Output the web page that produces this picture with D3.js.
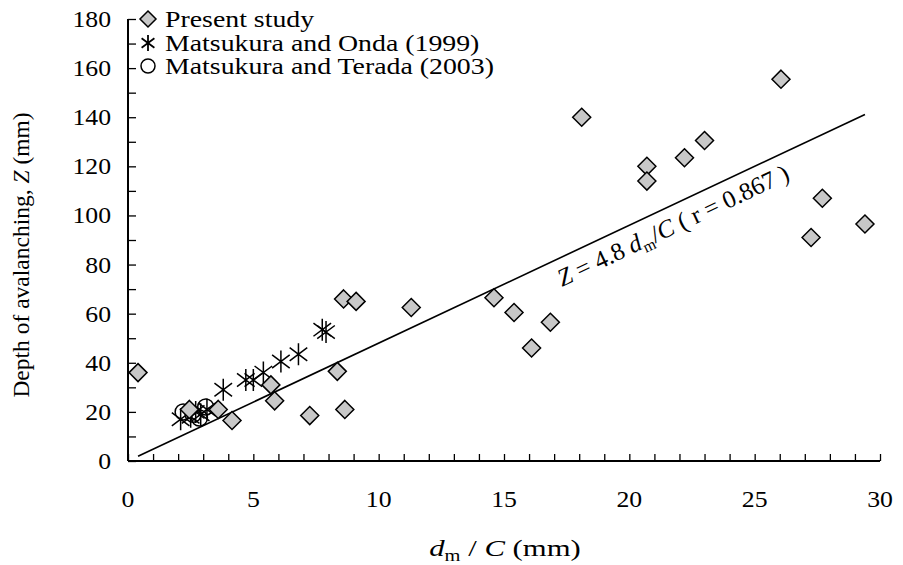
<!DOCTYPE html>
<html>
<head>
<meta charset="utf-8">
<script src="https://cdn.jsdelivr.net/npm/d3@7"></script>
<style>
  body { margin: 0; background: #fff; }
</style>
</head>
<body>
<div id="chart" style="width:903px;height:565px"></div>
<script>
// present study
const presentX = [0.4, 2.45, 3.6, 4.15, 5.7, 5.85, 7.25, 8.35, 8.65, 8.6, 9.1, 11.3, 14.6, 15.4, 16.1, 16.85, 18.1, 20.7, 20.7, 22.2, 23.0, 26.05, 27.7, 27.25, 29.4];
const presentY = [36, 21, 21, 16.5, 31, 24.5, 18.5, 36.5, 21, 66, 65, 62.5, 66.5, 60.5, 46, 56.5, 140, 120, 114, 123.5, 130.5, 155.5, 107, 91, 96.5];
// Matsukura and Onda (1999)
const ondaX = [2.1, 2.5, 2.7, 2.9, 3.15, 3.8, 4.7, 5.0, 5.4, 6.1, 6.8, 7.75, 7.9];
const ondaY = [17, 18, 20, 19, 21, 29, 33, 33, 36, 40.5, 43.5, 53.5, 52.5];
// Matsukura and Terada (2003)
const teradaX = [2.2, 2.6, 2.85, 3.1];
const teradaY = [20, 19, 17.5, 22];
// regression Z = 4.8 dm/C
const slope = 4.8;
const lineX = [0.4, 29.4];

const xTicks = [0, 5, 10, 15, 20, 25, 30];
const yTicks = [0, 20, 40, 60, 80, 100, 120, 140, 160, 180];
const legendNames = ['Present study', 'Matsukura and Onda (1999)', 'Matsukura and Terada (2003)'];

const width = 903, height = 565;
const margin = { left: 128, right: 23, top: 19, bottom: 104 };
const serif = 'Liberation Serif';

const svg = d3.select('#chart').append('svg')
  .attr('width', width)
  .attr('height', height)
  .attr('font-family', serif);

const x = d3.scaleLinear().domain([0, 30]).range([margin.left, width - margin.right]);
const y = d3.scaleLinear().domain([0, 180]).range([height - margin.bottom, margin.top]);

// 坐标轴
const xAxis = svg.append('g').attr('transform', `translate(0,${y(0)})`)
  .call(d3.axisBottom(x).ticks(30).tickSize(-7).tickFormat(''));
const yAxis = svg.append('g').attr('transform', `translate(${x(0)},0)`)
  .call(d3.axisLeft(y).ticks(18).tickSize(-8).tickFormat(''));
[xAxis, yAxis].forEach(g => {
  g.select('.domain').attr('stroke', '#000').attr('stroke-width', 2);
  g.selectAll('.tick line').attr('stroke', '#000').attr('stroke-width', 1.3);
});
xAxis.select('.domain').attr('d', `M${x(0)},0H${x(30)}`);
yAxis.select('.domain').attr('d', `M0,${y(0)}V${y(180)}`);

// 原图横向略拉伸，文字用 scale(sx,1)
svg.append('g').selectAll('text')
  .data(xTicks).enter().append('text')
  .attr('transform', d => `translate(${x(d)},${y(0) + 46}) scale(1.12,1)`)
  .attr('text-anchor', 'middle').attr('font-size', 23)
  .attr('font-family', serif)
  .text(d => d);
svg.append('g').selectAll('text')
  .data(yTicks).enter().append('text')
  .attr('transform', d => `translate(${x(0) - 17},${y(d) + 8}) scale(1.12,1)`)
  .attr('text-anchor', 'end').attr('font-size', 23)
  .attr('font-family', serif)
  .text(d => d);

// 轴标题
const xl = svg.append('text')
  .attr('transform', 'translate(505,556) scale(1.28,1)')
  .attr('text-anchor', 'middle').attr('font-size', 24).attr('font-family', serif);
xl.append('tspan').attr('font-style', 'italic').text('d');
xl.append('tspan').attr('font-size', 16).attr('dy', 5).text('m');
xl.append('tspan').attr('dy', -5).text(' / ');
xl.append('tspan').attr('font-style', 'italic').text('C');
xl.append('tspan').text(' (mm)');

const yl = svg.append('text')
  .attr('transform', `translate(29,255) rotate(-90)`)
  .attr('text-anchor', 'middle').attr('font-size', 23.5).attr('font-family', serif);
yl.append('tspan').text('Depth of avalanching, ');
yl.append('tspan').attr('font-style', 'italic').text('Z');
yl.append('tspan').text(' (mm)');

// 回归线
svg.append('line')
  .attr('x1', x(lineX[0])).attr('y1', y(slope * lineX[0]))
  .attr('x2', x(lineX[1])).attr('y2', y(slope * lineX[1]))
  .attr('stroke', '#000').attr('stroke-width', 1.6);

const ang = Math.atan2(y(slope * 30) - y(0), x(30) - x(0)) * 180 / Math.PI;
const eq = svg.append('text')
  .attr('transform', `translate(562,287) rotate(${ang})`)
  .attr('font-size', 25).attr('font-family', serif);
eq.append('tspan').attr('font-style', 'italic').text('Z');
eq.append('tspan').text(' = 4.8 ');
eq.append('tspan').attr('font-style', 'italic').text('d');
eq.append('tspan').attr('font-size', 16).attr('dy', 5).text('m');
eq.append('tspan').attr('dy', -5).text('/');
eq.append('tspan').attr('font-style', 'italic').text('C');
eq.append('tspan').text(' ( r = 0.867 )');

// 符号
const diamond = (cx, cy, r) => `M${cx},${cy - r}L${cx + r},${cy}L${cx},${cy + r}L${cx - r},${cy}Z`;
const star = (cx, cy, r) => {
  const a = r * 0.8, b = r * 0.6;
  return `M${cx - a},${cy - b}L${cx + a},${cy + b}M${cx - a},${cy + b}L${cx + a},${cy - b}M${cx},${cy - r}L${cx},${cy + r}`;
};

const teradaPts = teradaX.map((d, i) => [d, teradaY[i]]);
const ondaPts = ondaX.map((d, i) => [d, ondaY[i]]);
const presentPts = presentX.map((d, i) => [d, presentY[i]]);

svg.append('g').selectAll('circle')
  .data(teradaPts).enter().append('circle')
  .attr('cx', d => x(d[0])).attr('cy', d => y(d[1])).attr('r', 8)
  .attr('fill', 'none').attr('stroke', '#000').attr('stroke-width', 1.5);

svg.append('g').selectAll('path')
  .data(ondaPts).enter().append('path')
  .attr('d', d => star(x(d[0]), y(d[1]), 11))
  .attr('fill', 'none').attr('stroke', '#000').attr('stroke-width', 1.5);

svg.append('g').selectAll('path')
  .data(presentPts).enter().append('path')
  .attr('d', d => diamond(x(d[0]), y(d[1]), 9))
  .attr('fill', '#c8c8c8').attr('stroke', '#000').attr('stroke-width', 1.5);

// 图例
const lg = svg.append('g');
lg.append('path').attr('d', diamond(148, 19, 8))
  .attr('fill', '#c8c8c8').attr('stroke', '#000').attr('stroke-width', 1.5);
lg.append('path').attr('d', star(148, 43, 8))
  .attr('fill', 'none').attr('stroke', '#000').attr('stroke-width', 1.8);
lg.append('circle').attr('cx', 148).attr('cy', 66).attr('r', 7)
  .attr('fill', 'none').attr('stroke', '#000').attr('stroke-width', 1.5);
lg.selectAll('text').data(legendNames).enter().append('text')
  .attr('transform', (d, i) => `translate(165,${27 + i * 23.5}) scale(1.21,1)`)
  .attr('font-size', 23).attr('font-family', serif)
  .text(d => d);
</script>
</body>
</html>
